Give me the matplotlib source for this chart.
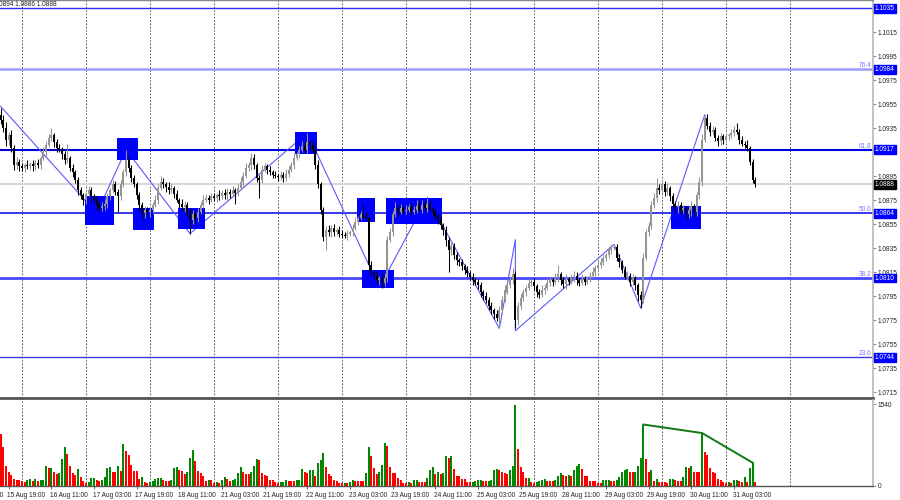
import numpy as np
import matplotlib
matplotlib.use('Agg')
import matplotlib.pyplot as plt
from matplotlib.patches import Rectangle
import matplotlib.transforms as mtransforms

plt.rcParams['font.family'] = ['Liberation Sans', 'DejaVu Sans']

# ---------------- data (EURUSD H1) ----------------
BASE = 1.0700            # prices below are pips above this base
first_bar = -8           # bar 0 = 16 Aug 00:00, one bar per hour
first_open = 246

close_pips = [
    242, 235, 225, 229, 218, 204, 207, 203,
    202, 204, 203, 205, 203, 206, 204, 210, 215, 221, 227, 229, 223, 218, 217, 213, 208, 210, 202, 198, 192, 183, 179, 175,
    180, 183, 178, 175, 171, 168, 170, 172, 178, 183, 188, 182, 178, 188, 198, 208, 202, 193, 188, 179, 171, 164, 167, 165,
    167, 171, 175, 185, 190, 188, 186, 183, 185, 180, 175, 172, 169, 171, 165, 158, 163, 160, 165, 171, 175, 177, 175, 178,
    177, 179, 178, 181, 179, 182, 180, 183, 181, 185, 190, 195, 202, 204, 210, 204, 193, 192, 200, 203, 200, 198, 196, 195,
    194, 196, 193, 197, 200, 204, 210, 213, 217, 220, 217, 223, 221, 217, 204, 188, 167, 144, 150, 148, 152, 148, 150, 147,
    146, 145, 147, 148, 152, 157, 160, 163, 162, 160, 121, 115, 112, 108, 110, 106, 110, 142, 148, 163, 168, 165, 168, 166,
    167, 169, 165, 167, 170, 167, 171, 168, 172, 167, 165, 162, 158, 154, 150, 142, 133, 137, 129, 125, 123, 120, 117, 114,
    111, 108, 107, 104, 98, 95, 92, 87, 83, 80, 77, 83, 92, 100, 104, 108, 113, 75, 87, 93, 98, 102, 106, 107,
    103, 98, 96, 100, 102, 106, 108, 107, 110, 113, 108, 105, 109, 107, 110, 112, 108, 106, 109, 107, 110, 112, 115, 118,
    121, 123, 127, 129, 133, 135, 136, 127, 123, 117, 111, 112, 107, 110, 104, 96, 92, 127, 148, 153, 171, 177, 185, 183,
    188, 182, 185, 178, 172, 169, 171, 167, 168, 163, 167, 170, 165, 179, 190, 225, 243, 237, 232, 233, 227, 224, 228, 225,
    228, 229, 231, 233, 232, 225, 222, 221, 218, 207, 192, 188,
]
upper_wick = [
    6, 4, 5, 3, 4, 3, 4, 2,
    3, 2, 4, 2, 3, 2, 3, 2, 4, 3, 3, 6, 2, 3, 4, 2, 3, 12, 2, 3, 2, 2, 3, 2,
    2, 4, 3, 2, 3, 2, 3, 4, 3, 2, 4, 3, 2, 4, 3, 9, 4, 2, 3, 2, 3, 2, 3, 2,
    3, 2, 4, 3, 5, 3, 2, 4, 3, 2, 3, 2, 4, 3, 2, 3, 4, 2, 3, 2, 4, 3, 2, 3,
    3, 2, 4, 2, 3, 3, 2, 4, 2, 3, 4, 3, 4, 3, 4, 3, 2, 3, 4, 3, 2, 3, 2, 3,
    2, 3, 2, 4, 3, 3, 4, 2, 3, 4, 3, 8, 3, 2, 3, 4, 2, 2, 3, 4, 2, 3, 2, 3,
    3, 2, 3, 2, 3, 4, 2, 3, 9, 3, 2, 3, 2, 3, 2, 3, 4, 3, 4, 3, 5, 3, 4, 3,
    4, 3, 4, 3, 5, 3, 4, 3, 5, 3, 2, 3, 2, 4, 2, 3, 2, 4, 2, 3, 2, 3, 2, 3,
    2, 3, 2, 2, 3, 2, 3, 2, 3, 2, 3, 4, 3, 4, 3, 4, 5, 3, 3, 4, 3, 2, 3, 2,
    3, 2, 3, 4, 3, 4, 3, 2, 4, 8, 2, 3, 4, 2, 3, 4, 3, 2, 4, 3, 2, 3, 4, 3,
    3, 4, 3, 2, 4, 3, 2, 2, 3, 2, 3, 4, 2, 3, 2, 2, 3, 4, 3, 4, 3, 4, 8, 3,
    4, 3, 4, 2, 3, 2, 3, 2, 3, 2, 3, 4, 2, 3, 4, 5, 3, 4, 3, 4, 3, 2, 3, 2,
    3, 2, 3, 4, 6, 2, 3, 2, 4, 2, 2, 2,
]
lower_wick = [
    4, 3, 5, 4, 3, 4, 3, 4,
    3, 4, 2, 3, 4, 3, 2, 3, 2, 3, 2, 3, 4, 3, 2, 4, 3, 2, 3, 4, 3, 4, 3, 4,
    3, 2, 4, 3, 4, 3, 2, 3, 4, 3, 2, 3, 13, 3, 2, 3, 4, 3, 2, 3, 4, 5, 4, 3,
    4, 3, 2, 3, 2, 3, 4, 3, 2, 3, 2, 4, 3, 4, 3, 11, 3, 4, 3, 2, 3, 2, 3, 2,
    3, 4, 3, 2, 3, 4, 3, 2, 9, 3, 2, 3, 2, 3, 4, 3, 3, 15, 3, 2, 3, 2, 3, 2,
    3, 2, 3, 2, 3, 2, 3, 2, 3, 2, 3, 3, 4, 2, 3, 3, 4, 3, 11, 3, 4, 3, 2, 3,
    3, 2, 3, 2, 3, 2, 3, 2, 3, 2, 4, 3, 4, 3, 4, 4, 3, 3, 2, 3, 2, 3, 2, 3,
    3, 2, 3, 2, 3, 2, 3, 2, 3, 2, 3, 4, 3, 3, 4, 5, 18, 4, 3, 4, 3, 3, 4, 3,
    3, 4, 3, 3, 4, 3, 3, 4, 3, 4, 3, 9, 3, 2, 3, 2, 3, 7, 4, 3, 2, 3, 2, 3,
    3, 4, 3, 2, 3, 2, 3, 4, 2, 3, 4, 3, 4, 3, 2, 3, 4, 3, 2, 3, 2, 3, 2, 3,
    2, 3, 2, 3, 2, 3, 2, 3, 4, 3, 2, 3, 4, 3, 4, 5, 7, 3, 2, 3, 2, 3, 4, 3,
    3, 4, 3, 4, 3, 4, 5, 4, 3, 4, 3, 5, 4, 3, 3, 3, 2, 3, 4, 3, 3, 4, 3, 3,
    2, 3, 2, 3, 2, 3, 2, 3, 2, 3, 3, 2,
]
volumes = [
    976, 738, 385, 270, 212, 128, 115, 110,
    90, 70, 110, 140, 100, 130, 90, 110, 115, 372, 334, 340, 257, 218, 244, 514, 725, 597, 379, 250, 212, 327, 173, 96,
    64, 77, 141, 154, 115, 96, 115, 167, 334, 366, 270, 265, 372, 289, 790, 655, 578, 398, 289, 282, 128, 167, 77, 51,
    80, 96, 128, 148, 150, 109, 103, 96, 115, 347, 366, 308, 282, 225, 270, 533, 674, 475, 289, 244, 193, 103, 109, 105,
    51, 77, 51, 109, 173, 128, 90, 115, 128, 244, 366, 257, 231, 225, 270, 372, 501, 495, 238, 212, 193, 115, 110, 77,
    64, 66, 83, 109, 96, 94, 92, 109, 112, 321, 257, 238, 308, 310, 193, 430, 482, 629, 366, 225, 193, 109, 96, 51,
    51, 64, 51, 83, 109, 96, 94, 92, 90, 238, 725, 565, 334, 225, 257, 404, 815, 751, 366, 238, 235, 148, 109, 51,
    51, 77, 64, 115, 118, 83, 82, 80, 141, 308, 366, 225, 270, 225, 244, 559, 526, 571, 321, 193, 190, 128, 125, 77,
    75, 83, 96, 109, 122, 96, 90, 96, 109, 308, 321, 295, 257, 238, 218, 308, 372, 1530, 687, 366, 257, 148, 154, 77,
    64, 83, 103, 122, 128, 96, 95, 90, 109, 193, 244, 205, 193, 212, 193, 308, 372, 417, 321, 193, 190, 96, 94, 90,
    64, 51, 109, 110, 111, 96, 90, 109, 161, 257, 308, 321, 270, 257, 270, 372, 533, 1155, 501, 257, 308, 96, 128, 83,
    77, 70, 64, 128, 135, 115, 103, 90, 161, 353, 340, 372, 270, 262, 257, 995, 642, 591, 334, 270, 244, 128, 116, 83,
    64, 77, 51, 109, 115, 96, 77, 161, 77, 334, 437, 77,
]

time_label_idx = [-21, -5, 11, 27, 43, 59, 75, 91, 107, 123, 139, 155, 171, 187, 203, 219, 235, 251, 267]
time_labels = ['15 Aug 03:00', '15 Aug 19:00', '16 Aug 11:00', '17 Aug 03:00', '17 Aug 19:00',
               '18 Aug 11:00', '21 Aug 03:00', '21 Aug 19:00', '22 Aug 11:00', '23 Aug 03:00',
               '23 Aug 19:00', '24 Aug 11:00', '25 Aug 03:00', '25 Aug 19:00', '28 Aug 11:00',
               '29 Aug 03:00', '29 Aug 19:00', '30 Aug 11:00', '31 Aug 03:00']
day_sep_idx = [0, 24, 48, 72, 96, 120, 144, 168, 192, 216, 240, 264, 288]

levels = [1.1035, 1.0984, 1.0917, 1.0864, 1.0810, 1.0744]
level_fib = ['', '76.4', '61.8', '50.0', '38.2', '23.6']
level_colors = ['#2a2aff', '#9c9cff', '#0000dd', '#1818ee', '#4646ff', '#3a3ae0']
level_widths = [1.0, 1.8, 1.5, 1.2, 2.0, 1.0]

# zigzag vertices (bar index, price)
zz_idx = [-8, 28, 39, 63, 107, 134, 152, 179, 185, 185, 222, 232, 256]
zz_price = [1.0953, 1.0864, 1.0917, 1.0847, 1.0931, 1.0802, 1.0877, 1.0768, 1.0842, 1.0766, 1.0838, 1.0785, 1.0946]

# blue zones: start bar, end bar, top price, bottom price
box_start = [24, 36, 42, 59, 103, 126, 128, 137, 244]
box_end = [34, 43, 49, 68, 110, 132, 139, 157, 254]
box_top = [1.0878, 1.0927, 1.0868, 1.0868, 1.0932, 1.0877, 1.0817, 1.0877, 1.0870]
box_bot = [1.0854, 1.0908, 1.0850, 1.0851, 1.0913, 1.0857, 1.0802, 1.0855, 1.0851]

# volume divergence bars
div_idx = [233, 255, 274]

price_ticks = [1.0715, 1.0735, 1.0755, 1.0775, 1.0795, 1.0815, 1.0835, 1.0855, 1.0875, 1.0895,
               1.0915, 1.0935, 1.0955, 1.0975, 1.0995, 1.1015]
vol_ticks = [0, 1540]
header_text = '0894 1.0886 1.0888'

# ---------------- derived ----------------
n = len(close_pips)
idx = np.arange(first_bar, first_bar + n)
close = BASE + np.array(close_pips) / 10000.0
opens = np.concatenate([[BASE + first_open / 10000.0], close[:-1]])
top = np.maximum(opens, close)
bot = np.minimum(opens, close)
high = top + np.array(upper_wick) / 10000.0
low = bot - np.array(lower_wick) / 10000.0
bull = close >= opens
vol = np.array(volumes, dtype=float)
vol_up = np.concatenate([[False], vol[1:] > vol[:-1]])

# ---------------- figure ----------------
W, H = 900, 500
fig = plt.figure(figsize=(9, 5), dpi=100, facecolor='white')
ax = fig.add_axes([0, 1 - 398 / H, 873 / W, 398 / H])
axv = fig.add_axes([0, 1 - 486 / H, 873 / W, 86 / H])

xlim = (-8.25, 319.1)
FS = 4.7
for a in (ax, axv):
    a.set_facecolor('white')
    a.spines['left'].set_visible(False)
    a.spines['right'].set_color('#b8b8b8')
    a.spines['right'].set_linewidth(1.2)
    a.yaxis.tick_right()
    a.tick_params(axis='y', direction='out', length=2, width=0.6, colors='#777777',
                  labelcolor='#222222', labelsize=FS, pad=1.5)
    for s in day_sep_idx:
        a.axvline(s, color='#3a3a3a', lw=0.6, ls=(0, (2, 2)), zorder=1)

ax.spines['top'].set_color('#888888')
ax.spines['top'].set_linewidth(1.0)
ax.spines['bottom'].set_color('#555555')
ax.spines['bottom'].set_linewidth(2.0)
axv.spines['top'].set_visible(False)
axv.spines['bottom'].set_color('#555555')
axv.spines['bottom'].set_linewidth(1.0)

ax.set_xticks([])
ax.set_yticks(price_ticks)
ax.set_yticklabels([f'{p:.4f}' for p in price_ticks])
axv.set_yticks(vol_ticks)
axv.set_yticklabels([str(v) for v in vol_ticks])

# bid line
bid = close[-1]
ax.axhline(bid, color='#d8d8d8', lw=1.5, zorder=1.5)

# levels
tr = mtransforms.blended_transform_factory(ax.transAxes, ax.transData)
for lv, fib, c, lw in zip(levels, level_fib, level_colors, level_widths):
    ax.axhline(lv, color=c, lw=lw, zorder=2)
    if fib:
        ax.text(1 - 2 / 873, lv, fib, transform=tr, ha='right', va='bottom', fontsize=FS,
                color='#7a7aff', zorder=6)

# zigzag
ax.plot(zz_idx, zz_price, color='#5a5aff', lw=0.8, zorder=3)

# boxes
for s, e, t, b in zip(box_start, box_end, box_top, box_bot):
    ax.add_patch(Rectangle((s - 0.5, b), e - s + 1, t - b, facecolor='#0000ff', edgecolor='none', zorder=4))

# candles
col = np.where(bull, '#959595', '#000000')
ax.vlines(idx, low, high, colors=col, lw=0.75, zorder=5)
ax.bar(idx, np.maximum(top - bot, 0.00003), bottom=bot, width=0.72, color=col, linewidth=0, zorder=5.1)

# right side price boxes
for lv in levels:
    ax.text(1 + 2 / 873, lv, f'{lv:.4f}', transform=tr, ha='left', va='center', fontsize=FS, color='white',
            bbox=dict(boxstyle='square,pad=0.15', fc='#0000ff', ec='#0000ff'), zorder=10, clip_on=False)
ax.text(1 + 2 / 873, bid, f'{bid:.4f}', transform=tr, ha='left', va='center', fontsize=FS, color='white',
        bbox=dict(boxstyle='square,pad=0.15', fc='#000000', ec='#000000'), zorder=10, clip_on=False)

# volumes
vcol = np.where(vol_up, '#008800', '#ff0000')
axv.bar(idx, vol, width=0.7, color=vcol, linewidth=0, zorder=3)
axv.plot(div_idx, vol[np.array(div_idx) - first_bar], color='#107a10', lw=1.4, zorder=4)

# time axis
axv.set_xticks([t for t in time_label_idx if xlim[0] <= t <= xlim[1]])
axv.set_xticklabels([])
axv.tick_params(axis='x', direction='out', length=2, width=0.6, colors='#555555')

ax.set_xlim(*xlim)
ax.set_ylim(1.07100, 1.10417)
axv.set_xlim(*xlim)
axv.set_ylim(0, 1616)

trv = mtransforms.blended_transform_factory(axv.transData, axv.transAxes)
for i, lab in zip(time_label_idx, time_labels):
    axv.text(i - 0.5, -0.07, lab, transform=trv, ha='left', va='top', fontsize=FS, color='#222222', clip_on=False)

fig.text(-1 / W, 1 - 5 / H, header_text, ha='left', va='center', fontsize=FS, color='#222222')

fig.savefig('out.png', dpi=100, facecolor='white')
